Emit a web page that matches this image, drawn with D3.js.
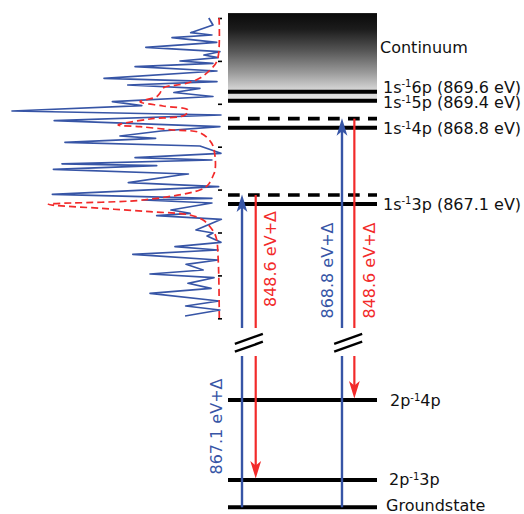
<!DOCTYPE html>
<html>
<head>
<meta charset="utf-8">
<script src="https://cdn.jsdelivr.net/npm/d3@7/dist/d3.min.js"></script>
<style>
  body { margin: 0; background: #fff; }
  svg { display: block; }
  text { font-family: "DejaVu Sans", sans-serif; }
</style>
</head>
<body>
<svg id="chart" width="524" height="514"></svg>
<script>
// ---- Measured spectrum (energy position in axis units, normalised intensity) ----
const specPos = [7.0, 6.837, 6.657, 6.604, 6.541, 6.434, 6.317, 6.214, 6.138, 6.075, 5.998, 5.944,
  5.865, 5.765, 5.594, 5.515, 5.438, 5.361, 5.263, 5.170, 5.049, 4.956, 4.832, 4.739, 4.606, 4.466,
  4.366, 4.249, 4.196, 4.103, 4.016, 3.846, 3.744, 3.690, 3.601, 3.557, 3.473, 3.364, 3.340, 3.161,
  3.068, 2.890, 2.797, 2.758, 2.688, 2.524, 2.448, 2.392, 2.308, 2.058, 1.988, 1.918, 1.772, 1.669,
  1.592, 1.492, 1.359, 1.259, 1.126, 1.033, 0.946, 0.816, 0.699, 0.583, 0.403, 0.287, 0.193, 0.054];
const specInt = [0.063, 0.043, 0.149, 0.048, 0.238, 0.025, 0.363, 0.010, 0.086, 0.019, 0.200, 0.043,
  0.414, 0.024, 0.562, 0.024, 0.449, 0.105, 0.229, 0.043, 0.522, 0.382, 1.000, 0.005, 0.799, 0.010,
  0.290, 0.486, 0.316, 0.748, 0.105, 0.005, 0.414, 0.048, 0.762, 0.311, 0.803, 0.160, 0.200, 0.446,
  0.016, 0.808, 0.048, 0.376, 0.048, 0.243, 0.152, 0.311, 0.003, 0.124, 0.043, 0.071, 0.005, 0.224,
  0.019, 0.425, 0.019, 0.171, 0.090, 0.343, 0.038, 0.162, 0.052, 0.343, 0.014, 0.173, 0.010, 0.176];

// ---- Calculated absorption profile ----
const fitPos = [7.0, 6.021, 5.788, 5.601, 5.478, 5.368, 5.252, 5.166, 5.049, 4.949, 4.855, 4.739,
  4.646, 4.506, 4.466, 4.389, 4.326, 4.079, 3.767, 3.457, 3.340, 3.107, 2.991, 2.758, 2.657, 2.564,
  2.485, 2.408, 2.291, 2.135, 1.902, 1.359, 0.007];
const fitInt = [0.014, 0.022, 0.057, 0.105, 0.168, 0.281, 0.295, 0.311, 0.390, 0.281, 0.162, 0.176,
  0.343, 0.495, 0.390, 0.233, 0.105, 0.049, 0.033, 0.033, 0.041, 0.067, 0.105, 0.375, 0.827, 0.581,
  0.343, 0.152, 0.090, 0.057, 0.029, 0.018, 0.013];
const specTicks = [0, 1, 2, 3, 4, 5, 6, 7];

// ---- Energy levels ----
const lowerEnergies = [0, 18.5, 20.2];                       // eV above ground state
const lowerPrefix = ["Groundstate", "2p", "2p"];
const lowerSup = ["", "-1", "-1"];
const lowerRest = ["", "3p", "4p"];

const upperEnergies = [867.1, 868.8, 869.4, 869.6];          // core-excited states, eV
const upperPrefix = ["1s", "1s", "1s", "1s"];
const upperSup = ["-1", "-1", "-1", "-1"];
const upperRest = ["3p (867.1 eV)", "4p (868.8 eV)", "5p (869.4 eV)", "6p (869.6 eV)"];

const continuumRange = [869.35, 871.35];
const continuumLabel = "Continuum";

// ---- RIXS transitions ----
const excitation = [867.1, 868.8];   // incident photon energy (eV), plus detuning
const emission = [848.6, 848.6];     // emitted photon energy (eV), plus detuning
const detuning = 0.2;                // Δ

// ---------------------------------------------------------------
const svg = d3.select("#chart");
const BLUE = "#3755a6", RED = "#f22a2a";

// Spectrum scales (energy runs vertically, intensity grows to the left)
const ySpec = d3.scaleLinear().domain([0, 7]).range([318.3, 18]);
const xSpec = d3.scaleLinear().domain([0, 1]).range([222, 12]);

// Level diagram scales (axis broken between lower and upper manifolds)
const yLower = d3.scaleLinear().domain([0, 18.5, 20.2]).range([507.3, 480, 400]);
const yUpper = d3.scaleLinear().domain([867.1, 869.6]).range([204, 91.7]);
const breakBottom = 356, breakTop = 328, breakMid = 342.8;
const xLev = d3.scaleLinear().domain([0, 1]).range([228, 377]);

// ---- spectrum ----
const gSpec = svg.append("g");
gSpec.append("g")
  .attr("transform", "translate(222,0)")
  .call(d3.axisLeft(ySpec).tickValues(specTicks).tickSize(4).tickFormat(""))
  .call(g => g.select(".domain").remove())
  .call(g => g.selectAll(".tick line").attr("stroke", "#000").attr("stroke-width", 1.6));

const specData = specPos.map((p, i) => [specInt[i], p]);
gSpec.append("path")
  .datum(specData)
  .attr("fill", "none")
  .attr("stroke", BLUE)
  .attr("stroke-width", 1.7)
  .attr("stroke-linejoin", "round")
  .attr("d", d3.line().x(d => xSpec(d[0])).y(d => ySpec(d[1])));

const fitData = fitPos.map((p, i) => [fitInt[i], p]);
gSpec.append("path")
  .datum(fitData)
  .attr("fill", "none")
  .attr("stroke", RED)
  .attr("stroke-width", 1.7)
  .attr("stroke-dasharray", "7,4")
  .attr("d", d3.line().curve(d3.curveCatmullRom.alpha(0.5)).x(d => xSpec(d[0])).y(d => ySpec(d[1])));

// ---- continuum ----
const defs = svg.append("defs");
const grad = defs.append("linearGradient").attr("id", "cont").attr("x1", 0).attr("y1", 0).attr("x2", 0).attr("y2", 1);
[[0, "#0a0a0a"], [0.18, "#1c1c1c"], [0.42, "#565656"], [0.67, "#9c9c9c"], [0.84, "#d2d2d2"], [1, "#e8e8e8"]]
  .forEach(([o, c]) => grad.append("stop").attr("offset", o).attr("stop-color", c));

svg.append("rect")
  .attr("x", xLev(0)).attr("width", xLev(1) - xLev(0))
  .attr("y", yUpper(continuumRange[1]))
  .attr("height", yUpper(continuumRange[0]) - yUpper(continuumRange[1]))
  .attr("fill", "url(#cont)");

// ---- levels ----
const gLev = svg.append("g");
function levelLine(y, dashed) {
  gLev.append("line")
    .attr("x1", xLev(0)).attr("x2", xLev(1))
    .attr("y1", y).attr("y2", y)
    .attr("stroke", "#000")
    .attr("stroke-width", dashed ? 3.6 : 4)
    .attr("stroke-dasharray", dashed ? "11.7,8.3" : null);
}
upperEnergies.forEach(e => levelLine(yUpper(e), false));
lowerEnergies.forEach(e => levelLine(yLower(e), false));
excitation.forEach(e => levelLine(yUpper(e + detuning), true));

// labels
function levelLabel(x, y, pre, sup, rest) {
  const t = svg.append("text").attr("x", x).attr("y", y).attr("font-size", 16).attr("fill", "#111");
  t.append("tspan").text(pre);
  if (sup) {
    t.append("tspan").attr("dy", -5.5).attr("font-size", 10).text(sup);
    t.append("tspan").attr("dy", 5.5).text(rest);
  }
}
const upperNudge = [5.5, 6.5, 7.8, 0.8];
upperEnergies.forEach((e, i) =>
  levelLabel(383, yUpper(e) + upperNudge[i], upperPrefix[i], upperSup[i], upperRest[i]));
const lowerX = [386, 389, 390];
const lowerNudge = [4.0, 5, 6];
lowerEnergies.forEach((e, i) =>
  levelLabel(lowerX[i], yLower(e) + lowerNudge[i], lowerPrefix[i], lowerSup[i], lowerRest[i]));
svg.append("text").attr("x", 380).attr("y", 52.5).attr("font-size", 16).attr("fill", "#111").text(continuumLabel);

// ---- transitions ----
const headPath = "M0,0 L5.4,17.5 L0,13 L-5.4,17.5 Z";
function arrowHead(x, y, color, up) {
  svg.append("path")
    .attr("d", headPath)
    .attr("fill", color)
    .attr("transform", `translate(${x},${y}) rotate(${up ? 0 : 180})`);
}
function vline(x, y1, y2, color, w) {
  svg.append("line").attr("x1", x).attr("x2", x).attr("y1", y1).attr("y2", y2)
    .attr("stroke", color).attr("stroke-width", w);
}

const absX = [0.094, 0.765];
const emiX = [0.186, 0.848];
const labelLayout = [
  { abs: [-26, 426.5], emi: [14.5, 259] },
  { abs: [-14.5, 270.5], emi: [15, 270.5] }
];

excitation.forEach((e, i) => {
  const top = yUpper(e + detuning);
  const finalE = e - emission[i];
  const xa = xLev(absX[i]), xe = xLev(emiX[i]);

  // absorption (ground state -> core-excited + Δ)
  vline(xa, yLower(0), breakBottom, BLUE, 2.4);
  vline(xa, breakTop, top + 12, BLUE, 2.4);
  arrowHead(xa, top - 0.5, BLUE, true);

  // emission (core-excited + Δ -> 2p hole state)
  const yf = yLower(finalE);
  vline(xe, top, breakTop, RED, 2.2);
  vline(xe, breakBottom, yf - 12, RED, 2.2);
  arrowHead(xe, yf - 1.5, RED, false);

  // axis break marks
  const cx = (xa + xe) / 2;
  [-3.9, 3.9].forEach(dy => {
    svg.append("line")
      .attr("x1", cx - 14).attr("y1", breakMid + dy + 5)
      .attr("x2", cx + 14).attr("y2", breakMid + dy - 5)
      .attr("stroke", "#000").attr("stroke-width", 2.4);
  });

  // energy labels
  const L = labelLayout[i];
  svg.append("text")
    .attr("transform", `translate(${xa + L.abs[0]},${L.abs[1]}) rotate(-90)`)
    .attr("text-anchor", "middle").attr("dominant-baseline", "central")
    .attr("font-size", 16).attr("fill", BLUE)
    .text(`${e.toFixed(1)} eV+Δ`);
  svg.append("text")
    .attr("transform", `translate(${xe + L.emi[0]},${L.emi[1]}) rotate(-90)`)
    .attr("text-anchor", "middle").attr("dominant-baseline", "central")
    .attr("font-size", 16).attr("fill", RED)
    .text(`${emission[i].toFixed(1)} eV+Δ`);
});
</script>
</body>
</html>
